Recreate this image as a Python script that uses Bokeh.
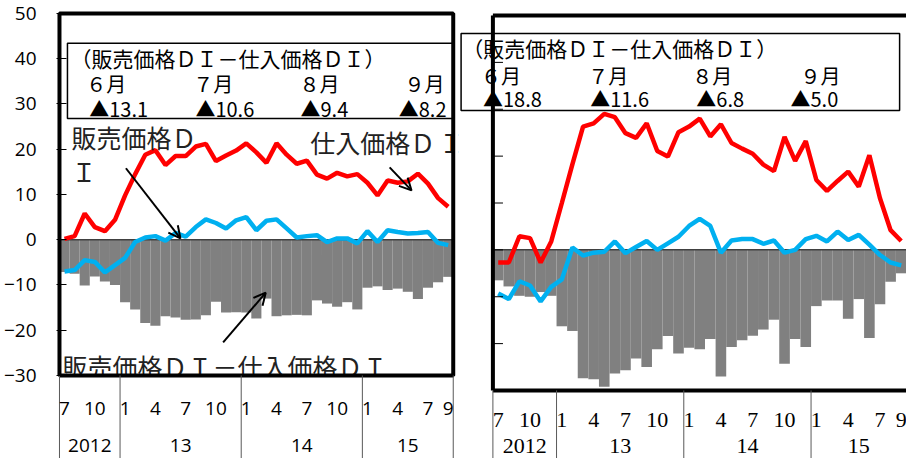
from bokeh.plotting import figure
from bokeh.models import LinearAxis, FixedTicker, Range1d, Arrow, OpenHead
from bokeh.embed import file_html
from bokeh.resources import INLINE
from bokeh.core.properties import value

# ---------------- data ----------------
months = list(range(39))  # 2012/7 ... 2015/9
month_tick_pos = [0, 3, 6, 9, 12, 15, 18, 21, 24, 27, 30, 33, 36, 38]
month_tick_labels = ["7", "10", "1", "4", "7", "10", "1", "4", "7", "10", "1", "4", "7", "9"]
year_pos = [2.5, 11.5, 23.5, 34.0]
year_labels = ["2012", "13", "14", "15"]
year_bounds = [-0.5, 5.5, 17.5, 29.5, 38.5]
y_ticks = [-30, -20, -10, 0, 10, 20, 30, 40, 50]

# left chart
left_purchase = [0.2, 0.8, 5.8, 2.8, 1.9, 4.4, 9.8, 14.5, 18.8, 19.8, 16.5, 18.5, 18.5,
                 20.6, 21.2, 17.4, 18.6, 19.7, 21.3, 19.3, 17.0, 21.3, 18.8, 16.8, 17.5,
                 14.4, 13.5, 14.8, 14.0, 14.5, 12.6, 9.8, 13.1, 12.6, 12.9, 14.6, 12.4, 9.2, 7.3]
left_sales = [-7.0, -6.7, -4.5, -4.9, -7.2, -5.6, -4.0, -0.5, 0.5, 0.8, -0.2, 1.5, 0.7,
              2.8, 4.5, 3.7, 2.5, 4.3, 5.0, 2.1, 4.2, 4.5, 2.5, 0.5, 0.8,
              1.0, -0.5, 0.3, 0.3, -0.8, 1.9, -0.5, 2.1, 1.7, 1.4, 1.5, 1.7, -0.7, -1.2]
left_diff = [-7.1, -7.5, -10.1, -8.1, -9.2, -10.0, -13.8, -15.4, -18.4, -19.0, -16.9, -17.2, -17.7,
             -17.6, -16.7, -13.7, -16.1, -16.0, -16.1, -17.4, -13.0, -16.9, -16.7, -16.6, -16.7,
             -13.4, -14.1, -14.8, -13.8, -15.4, -10.6, -10.3, -11.1, -10.8, -11.5, -13.1, -10.6, -9.4, -8.2]
left_box_months = ["６月", "７月", "８月", "９月"]
left_box_values = ["▲13.1", "▲10.6", "▲9.4", "▲8.2"]

# right chart
right_purchase = [-2.7, -2.7, 2.9, 2.5, -2.7, 1.8, 10.0, 18.3, 26.3, 27.0, 29.0, 28.3, 24.9,
                  23.9, 27.0, 21.1, 19.9, 25.1, 26.3, 28.0, 24.2, 26.8, 22.8, 21.6, 20.5,
                  18.2, 16.8, 24.1, 19.0, 23.2, 14.9, 12.6, 14.7, 16.7, 13.5, 20.2, 11.0, 4.2, 1.9]
right_sales = [-9.3, -10.5, -6.7, -7.6, -11.0, -7.9, -6.3, 0.5, -1.2, -0.6, -0.4, 1.8, -0.7,
               0.6, 1.9, 0.0, 1.4, 2.8, 5.1, 6.6, 5.1, -0.6, 2.0, 2.3, 2.3,
               1.3, 2.0, -0.6, 0.0, 2.3, 3.0, 1.8, 3.9, 2.1, 3.2, 1.1, -1.1, -2.7, -3.3]
right_diff = [-6.5, -7.8, -9.8, -10.0, -9.0, -9.8, -16.3, -17.3, -27.4, -27.6, -29.2, -26.4, -25.7,
              -23.2, -25.0, -21.2, -18.4, -22.1, -20.9, -21.2, -19.0, -27.0, -20.7, -19.3, -18.3,
              -17.0, -14.9, -24.3, -19.0, -20.7, -12.0, -10.8, -10.8, -14.7, -10.5, -18.8, -11.6, -6.8, -5.0]
right_box_months = ["６月", "７月", "８月", "９月"]
right_box_values = ["▲18.8", "▲11.6", "▲6.8", "▲5.0"]

box_title = "（販売価格ＤＩ－仕入価格ＤＩ）"

RED = "#FF0000"
BLUE = "#00B0F0"
BAR = "#808080"
JP = value("Noto Sans CJK JP")
SEP = "#595959"

# one canvas, two panels: left panel uses the default ranges, right panel the extra ranges
p = figure(width=906, height=458,
           x_range=Range1d(-0.795, 83.394), y_range=Range1d(-48.343, 50.663),
           output_backend="svg", toolbar_location=None,
           x_axis_location=None, y_axis_location=None,
           min_border_left=49, min_border_right=0, min_border_top=10, min_border_bottom=0)
p.extra_x_ranges = {"xr": Range1d(-41.651, 38.5)}
p.extra_y_ranges = {"yr": Range1d(-44.507, 51.067)}
p.outline_line_color = None
p.grid.visible = False
p.background_fill_color = "white"
p.border_fill_color = "white"

ya = LinearAxis(ticker=FixedTicker(ticks=y_ticks, minor_ticks=[]),
                axis_line_color=None, major_tick_in=10, major_tick_out=0,
                major_tick_line_color="black", minor_tick_line_color=None,
                major_label_standoff=20, major_label_text_font="Open Sans",
                major_label_text_font_size="19px", major_label_text_color="black")
p.add_layout(ya, "left")

# ---------- left panel ----------
p.vbar(x=months, top=left_diff, width=1.0, fill_color=BAR, line_color=None)
p.segment(x0=[-0.5], y0=[0], x1=[38.5], y1=[0], line_color="#404040", line_width=1.5)
p.line(months, left_sales, line_color=BLUE, line_width=4.5)
p.line(months, left_purchase, line_color=RED, line_width=4.5)

p.quad(left=[0.29], right=[38.8], top=[43.4], bottom=[26.8],
       fill_color="white", line_color="black", line_width=1.5)
p.text(x=[0.58], y=[40.1], text=[box_title], text_font=JP, text_font_size="21px",
       text_baseline="middle", text_align="left", text_color="black")
p.text(x=[2.15, 12.76, 23.27, 33.68], y=[34.5] * 4, text=left_box_months, text_font=JP,
       text_font_size="20px", text_baseline="middle", text_align="left", text_color="black")
p.text(x=[2.45, 12.96, 23.37, 33.1], y=[29.0] * 4, text=left_box_values, text_font=JP,
       text_font_size="20px", text_baseline="middle", text_align="left", text_color="black")

p.text(x=[0.68, 0.68, 24.35, -0.2], y=[22.6, 15.3, 21.7, -28.0],
       text=["販売価格Ｄ", "Ｉ", "仕入価格Ｄ", "販売価格ＤＩ－仕入価格ＤＩ"],
       text_font=JP, text_font_size="25px", text_baseline="middle", text_align="left",
       text_color="#222222")
p.text(x=[37.1], y=[21.7], text=["Ｉ"], text_font=JP, text_font_size="25px",
       text_baseline="middle", text_align="left", text_color="#222222")
# mask: the lowest label is cut by the chart's frame line, as in the original
p.quad(left=[-0.8], right=[38.6], top=[-30], bottom=[-32.8], fill_color="white", line_color=None)
p.quad(left=[38.5], right=[39.0], top=[50.7], bottom=[-30], fill_color="white", line_color=None)
p.quad(left=[-0.5], right=[38.5], top=[50], bottom=[-30], fill_color=None,
       line_color="black", line_width=4)
p.segment(x0=year_bounds, y0=[-30] * 5, x1=year_bounds, y1=[-49] * 5,
          line_color=SEP, line_width=1)
p.text(x=month_tick_pos, y=[-37.2] * len(month_tick_pos), text=month_tick_labels,
       text_font=value("Open Sans"), text_font_size="19px", text_baseline="middle",
       text_align="center", text_color="black")
p.text(x=year_pos, y=[-45.4] * 4, text=year_labels,
       text_font=value("Open Sans"), text_font_size="19px", text_baseline="middle",
       text_align="center", text_color="black")

for (xs, ys, xe, ye) in [(6.08, 15.8, 11.48, 0.3), (32.2, 16.0, 34.37, 10.9), (15.71, -22.7, 19.93, -11.7)]:
    p.add_layout(Arrow(end=OpenHead(size=12, line_width=2, line_color="black"),
                       x_start=xs, y_start=ys, x_end=xe, y_end=ye,
                       line_width=2, line_color="black"))

# ---------- right panel ----------
R = dict(x_range_name="xr", y_range_name="yr")
p.vbar(x=months, top=right_diff, width=1.0, fill_color=BAR, line_color=None, **R)
p.segment(x0=[-0.5], y0=[0], x1=[38.5], y1=[0], line_color="#404040", line_width=1.5, **R)
p.line(months, right_sales, line_color=BLUE, line_width=4.5, **R)
p.line(months, right_purchase, line_color=RED, line_width=4.5, **R)

p.quad(left=[-3.5], right=[37.85], top=[46.17], bottom=[29.74],
       fill_color="white", line_color="black", line_width=1.5, **R)
p.text(x=[-3.4], y=[42.97], text=[box_title], text_font=JP, text_font_size="21px",
       text_baseline="middle", text_align="left", text_color="black", **R)
p.text(x=[-1.62, 8.48, 18.3, 28.5], y=[37.2] * 4, text=right_box_months, text_font=JP,
       text_font_size="20px", text_baseline="middle", text_align="left", text_color="black", **R)
p.text(x=[-1.44, 8.67, 18.68, 27.56], y=[32.3] * 4, text=right_box_values, text_font=JP,
       text_font_size="20px", text_baseline="middle", text_align="left", text_color="black", **R)

# frame lines (left, top, bottom; the right edge lies beyond the window in the original)
p.segment(x0=[-0.5, -0.5, -0.5], y0=[-30, 50, -30], x1=[-0.5, 38.5, 38.5], y1=[50, 50, -30],
          line_color="black", line_width=4, **R)
p.segment(x0=[-0.5] * len(y_ticks), y0=y_ticks, x1=[0.45] * len(y_ticks), y1=y_ticks,
          line_color="black", line_width=1, **R)
p.segment(x0=year_bounds[:-1], y0=[-30] * 4, x1=year_bounds[:-1], y1=[-45] * 4,
          line_color=SEP, line_width=1, **R)
p.text(x=month_tick_pos, y=[-36.3] * len(month_tick_pos), text=month_tick_labels,
       text_font=value("Liberation Serif"), text_font_size="22px", text_baseline="middle",
       text_align="center", text_color="black", **R)
p.text(x=year_pos, y=[-41.9] * 4, text=year_labels,
       text_font=value("Liberation Serif"), text_font_size="22px", text_baseline="middle",
       text_align="center", text_color="black", **R)

open("out.html", "w").write(file_html(p, INLINE))
